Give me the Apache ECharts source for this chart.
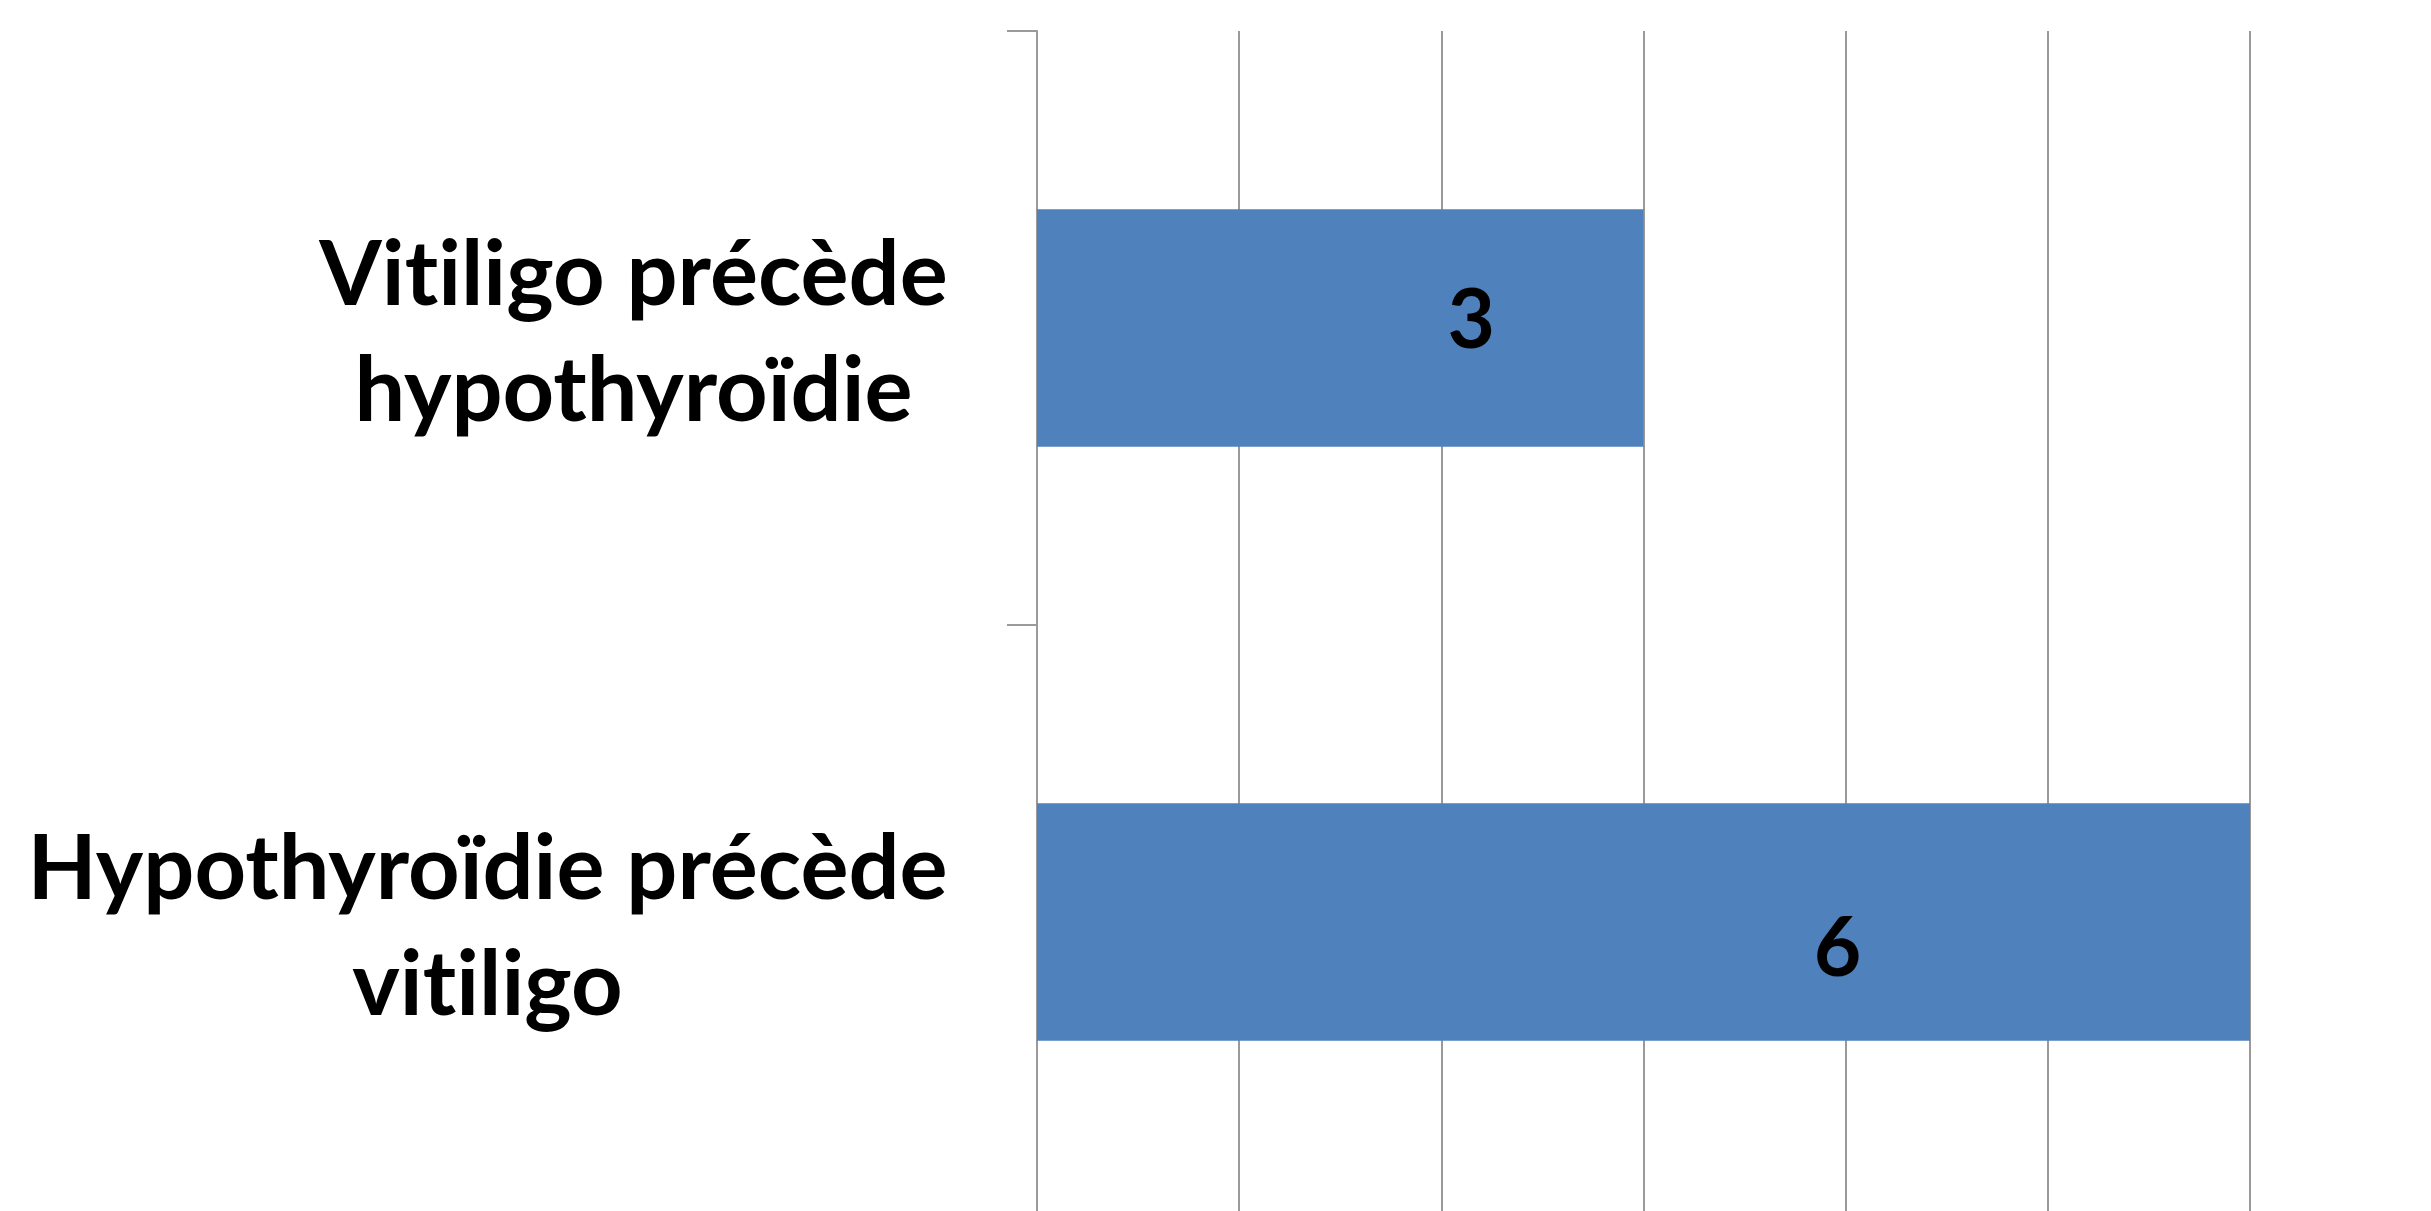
<!DOCTYPE html>
<html><head><meta charset="utf-8">
<script src="https://cdn.jsdelivr.net/npm/echarts@6/dist/echarts.min.js"></script>
<style>
html,body{margin:0;padding:0;background:#fff}
#c{width:2431px;height:1211px}
#c text{font-variant-ligatures:none;font-feature-settings:"liga" 0,"clig" 0}
</style>
</head><body><div id="c"></div>
<script>
// ---- data ----
const categories = ['Vitiligo précède\nhypothyroïdie', 'Hypothyroïdie précède\nvitiligo'];
const values = [3, 6];
const axisMin = 0, axisMax = 6, axisStep = 1;

// ---- style ----
const FONT = 'Lato';
const LABEL_SIZE = 90;
const VALUE_SIZE = 82;
const LINE_H = 116;
const BAR_COLOR = '#4F81BD';
const GRID_COLOR = '#9a9a9a';
const VALUE_LABEL_SHIFT = [[131, -12], [194, 22]];

// measure line widths (ligatures off) with a temporary element, then remove it
const m = document.createElement('span');
m.style.cssText = 'position:absolute;visibility:hidden;white-space:pre;font-weight:bold;' +
  'font-variant-ligatures:none;font-feature-settings:"liga" 0,"clig" 0;font-family:' + FONT +
  ';font-size:' + LABEL_SIZE + 'px';
document.body.appendChild(m);
function textW(s) { m.textContent = s; return m.getBoundingClientRect().width; }
const rich = {};
categories.forEach((c, i) => {
  const w = Math.max(...c.split('\n').map(textW));
  rich['r' + i] = { width: Math.ceil(w) + 2, align: 'center', fontSize: LABEL_SIZE, fontWeight: 'bold',
    fontFamily: FONT, lineHeight: LINE_H, color: '#000' };
});
document.body.removeChild(m);

const chart = echarts.init(document.getElementById('c'), null, { renderer: 'svg' });
chart.setOption({
  animation: false,
  backgroundColor: '#fff',
  grid: { left: 1037, top: 31, width: 1213, height: 1188, containLabel: false, outerBoundsMode: 'none' },
  xAxis: {
    type: 'value', min: axisMin, max: axisMax, interval: axisStep,
    axisLabel: { show: false }, axisTick: { show: false }, axisLine: { show: false },
    splitLine: { show: true, lineStyle: { color: GRID_COLOR, width: 2 } }
  },
  yAxis: {
    type: 'category', inverse: true, data: categories,
    axisLine: { show: true, lineStyle: { color: GRID_COLOR, width: 2 } },
    axisTick: { show: true, length: 30, alignWithLabel: false, lineStyle: { color: GRID_COLOR, width: 2 } },
    axisLabel: {
      margin: 88, align: 'right', verticalAlign: 'middle',
      formatter: (v, i) => v.split('\n').map(l => '{r' + i + '|' + l + '}').join('\n'),
      rich: rich
    },
    splitLine: { show: false }
  },
  series: [{
    type: 'bar',
    barWidth: '40%',
    itemStyle: { color: BAR_COLOR },
    label: { show: true, position: 'inside', fontSize: VALUE_SIZE, fontWeight: 'bold', fontFamily: FONT, color: '#000' },
    data: values.map((v, i) => ({ value: v, label: { offset: VALUE_LABEL_SHIFT[i] } }))
  }]
});
</script></body></html>
